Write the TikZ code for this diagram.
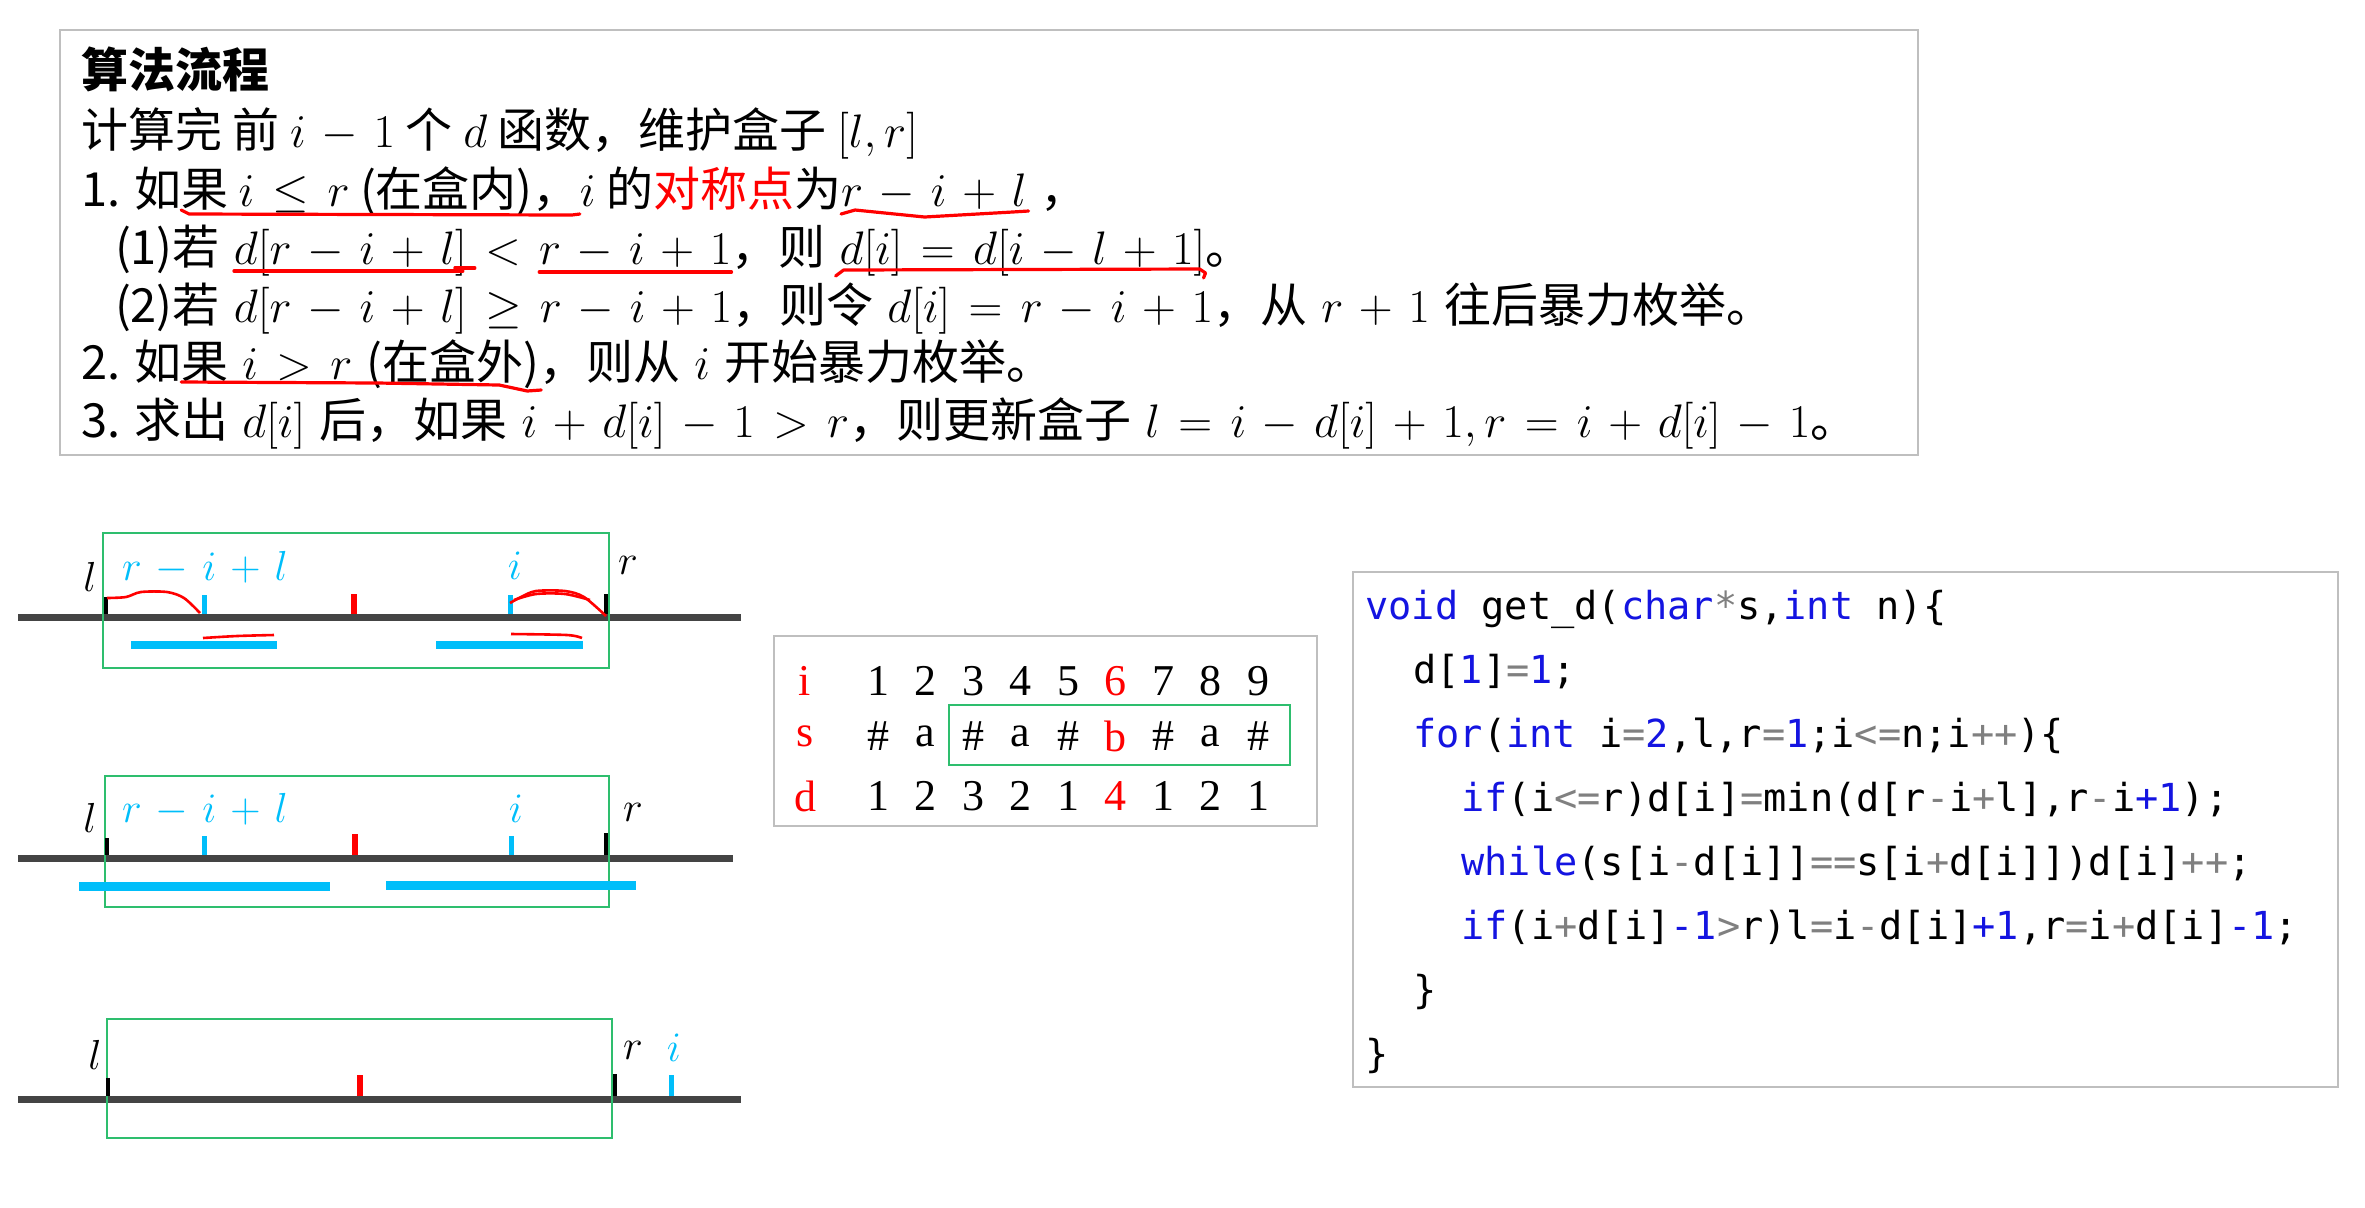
\RequirePackage{fix-cm}
\documentclass[tikz,border=0pt]{standalone}
\usepackage[no-math]{fontspec}
\setmainfont{Noto Sans CJK SC}
\newfontfamily\tabfont{Liberation Serif}
\newfontfamily\codefont{DejaVu Sans Mono}
\usepackage{xcolor}
\usepackage{amsmath}
\usepackage{amssymb}
\usetikzlibrary{positioning, calc}
\definecolor{boxgreen}{RGB}{46,190,110}
\definecolor{skyb}{RGB}{0,190,250}
\definecolor{codeblue}{RGB}{20,20,225}
\definecolor{codegray}{RGB}{128,128,128}
\definecolor{axisgray}{RGB}{68,68,68}
\medmuskip=6mu plus 2mu minus 2mu
\thickmuskip=7mu plus 3mu
\newcommand{\algsize}{\fontsize{23.5}{28}\selectfont}
\newcommand{\lblsize}{\fontsize{21}{25}\selectfont}
\newcommand{\gap}{\hspace{0.3em}\null}
\newcommand{\codekw}[1]{\textcolor{codeblue}{#1}}
\newcommand{\codenum}[1]{\textcolor{codeblue}{#1}}
\newcommand{\codeop}[1]{\textcolor{codegray}{#1}}
\tikzset{panel/.style={draw=black!25, line width=1.2pt}}
\tikzset{txt/.style={inner sep=0pt, outer sep=0pt, anchor=base west, font=\algsize}}
\tikzset{pen/.style={draw=red, line width=1.6pt, line cap=round, line join=round}}
\tikzset{axis/.style={draw=axisgray, line width=3.5pt}}
\tikzset{boxg/.style={draw=boxgreen, line width=1pt}}
\tikzset{blacktick/.style={draw=black, line width=2pt}}
\tikzset{bluetick/.style={draw=skyb, line width=2.5pt}}
\tikzset{redtick/.style={draw=red, line width=3pt}}
\tikzset{bluebar/.style={draw=skyb, line width=4pt}}
\tikzset{lbl/.style={inner sep=0pt, font=\lblsize}}
\tikzset{cell/.style={inner sep=0pt, font=\tabfont\fontsize{22}{26}\selectfont}}
\tikzset{code/.style={inner sep=0pt, anchor=base west, font=\codefont\fontsize{19.3}{24}\selectfont}}

\begin{document}
\begin{tikzpicture}[x=0.5pt, y=-0.5pt]
    \useasboundingbox (0,0) rectangle (2365,1207);

    % algorithm text
    \draw[panel] (60,30) rectangle (1918,455);
    \node[txt, font=\algsize\bfseries] (title) at (81,87) {算法流程};
    \node[txt] (init) at (81,147) {计算完 前 $i-1$ 个 $d$ 函数，维护盒子 $[l,r]$};

    \node[txt] (s1a) at (81,206) {1. 如};
    \node[txt, base right=0pt of s1a] (s1b) {果 $i\le r$ (在盒内)，};
    \node[txt, base right=0pt of s1b] (s1c) {$i$ 的\textcolor{red}{对称点}为};
    \node[txt, base right=0pt of s1c] (s1d) {$r-i+l$};
    \node[txt, base right=0pt of s1d] (s1e) {\gap{}，};

    \node[txt] (s2a) at (115,264) {(1)若\gap{}};
    \node[txt, base right=0pt of s2a] (s2b) {$d[r-i+l]$};
    \node[txt, base right=0pt of s2b] (s2c) {$\;<\;$};
    \node[txt, base right=0pt of s2c] (s2d) {$r-i+1$};
    \node[txt, base right=0pt of s2d] (s2e) {，则\gap{}};
    \node[txt, base right=0pt of s2e] (s2f) {$d[i]=d[i-l+1]$};
    \node[txt, base right=0pt of s2f] (s2g) {。};

    \node[txt] (s3) at (115,322) {(2)若\gap{}$d[r-i+l]\ge r-i+1$，则令\gap{}$d[i]=r-i+1$，从\gap{}$r+1$\gap{}往后暴力枚举。};

    \node[txt] (s4a) at (81,379) {2. 如};
    \node[txt, base right=0pt of s4a] (s4b) {果\gap{}$i>r$\gap{}(在盒外)};
    \node[txt, base right=0pt of s4b] (s4c) {，则从\gap{}$i$\gap{}开始暴力枚举。};

    \node[txt] (s5) at (81,437) {3. 求出\gap{}$d[i]$\gap{}后，如果\gap{}$i+d[i]-1>r$，则更新盒子\gap{}$l=i-d[i]+1,r=i+d[i]-1$。};

    % red pen marks
    \draw[pen] ($(s1b.base west)+(0,4)$) -- ($(s1b.base west)+(8,8)$) -- ($(s1b.base east)+(-8,9)$) -- ($(s1b.base east)+(0,8)$);
    \draw[pen] ($(s1d.base west)+(0,8)$) -- ($(s1d.base west)+(14,4)$) -- ($(s1d.base west)!0.45!(s1d.base east)+(0,11)$) -- ($(s1d.base east)+(-14,6)$) -- ($(s1d.base east)+(2,5)$);
    \draw[pen] ($(s2b.base west)+(0,7)$) -- ($(s2b.base east)+(-4,7)$);
    \draw[pen] ($(s2b.base east)+(-12,4)$) -- ($(s2b.base east)+(8,4)$);
    \draw[pen] ($(s2d.base west)+(0,8)$) -- ($(s2d.base east)+(0,8)$);
    \draw[pen] ($(s2f.base west)+(-4,12)$) -- ($(s2f.base west)+(4,6)$) -- ($(s2f.base east)+(-6,5)$) -- ($(s2f.base east)+(0,9)$) -- ($(s2f.base east)+(-2,14)$);
    \draw[pen] ($(s4b.base west)+(0,3)$) -- ($(s4b.base east)!0.45!(s4b.base west)+(0,4)$) -- ($(s4b.base east)+(-40,6)$) -- ($(s4b.base east)+(-12,12)$) -- ($(s4b.base east)+(2,11)$);

    % box, first case
    \draw[axis] (18,617) -- (741,617);
    \draw[boxg] (103,533) rectangle (609,668);
    \draw[blacktick] (106,597) -- (106,614);
    \draw[bluetick] (204,595) -- (204,614);
    \draw[redtick] (354,594) -- (354,614);
    \draw[bluetick] (510,595) -- (510,614);
    \draw[blacktick] (606,594) -- (606,614);
    \node[lbl] (al) at (90,577) {$l$};
    \node[lbl] (ar) at (628,565) {$r$};
    \node[lbl, text=skyb] (am) at (205,568) {$r-i+l$};
    \node[lbl, text=skyb] (ai) at (515,566) {$i$};
    \draw[bluebar] (131,645) -- (277,645);
    \draw[bluebar] (436,645) -- (583,645);
    \draw[draw=red, line width=1.3pt] plot[smooth] coordinates {(107,598) (126,597) (141,592) (167,592) (184,598) (200,613)};
    \draw[draw=red, line width=1.3pt] plot[smooth] coordinates {(510,603) (521,597) (536,591) (565,591) (584,597) (606,616)};
    \draw[draw=red, line width=1.3pt] plot[smooth] coordinates {(514,600) (536,594) (565,594) (590,600)};
    \draw[draw=red, line width=1.3pt] plot[smooth] coordinates {(203,638) (237,636) (274,635)};
    \draw[draw=red, line width=1.3pt] plot[smooth] coordinates {(511,634) (567,635) (582,638)};

    % box, second case
    \draw[axis] (18,858) -- (733,858);
    \draw[boxg] (105,776) rectangle (609,907);
    \draw[blacktick] (107,838) -- (107,855);
    \draw[bluetick] (204,836) -- (204,855);
    \draw[redtick] (355,834) -- (355,855);
    \draw[bluetick] (511,836) -- (511,855);
    \draw[blacktick] (606,833) -- (606,855);
    \node[lbl] (bl) at (90,818) {$l$};
    \node[lbl] (br) at (633,812) {$r$};
    \node[lbl, text=skyb] (bm) at (205,810) {$r-i+l$};
    \node[lbl, text=skyb] (bi) at (516,809) {$i$};
    \draw[draw=skyb, line width=4.5pt] (79,886) -- (330,886);
    \draw[draw=skyb, line width=4.5pt] (386,885) -- (636,885);

    % box, third case
    \draw[axis] (18,1099) -- (741,1099);
    \draw[boxg] (107,1019) rectangle (612,1138);
    \draw[blacktick] (108,1078) -- (108,1096);
    \draw[redtick] (360,1075) -- (360,1096);
    \draw[blacktick] (615,1074) -- (615,1096);
    \draw[bluetick] (671,1075) -- (671,1096);
    \node[lbl] (cl) at (95,1055) {$l$};
    \node[lbl] (cr) at (633,1050) {$r$};
    \node[lbl, text=skyb] (ci) at (674,1048) {$i$};

    % table
    \draw[panel] (774,636) rectangle (1317,826);
    \node[cell, text=red] (ti) at (805,681) {i};
    \node[cell, text=red] (ts) at (805,736) {s};
    \node[cell, text=red] (td) at (805,796) {d};
    \foreach \v/\c [count=\k] in {1/black,2/black,3/black,4/black,5/black,6/red,7/black,8/black,9/black}
        \node[cell, text=\c] (i\k) at ({878+47.5*(\k-1)},681) {\v};
    \foreach \v/\c [count=\k] in {\#/black,a/black,\#/black,a/black,\#/black,b/red,\#/black,a/black,\#/black}
        \node[cell, text=\c] (s\k) at ({878+47.5*(\k-1)},736) {\v};
    \foreach \v/\c [count=\k] in {1/black,2/black,3/black,2/black,1/black,4/red,1/black,2/black,1/black}
        \node[cell, text=\c] (d\k) at ({878+47.5*(\k-1)},796) {\v};
    \draw[boxg] (949,705) rectangle (1290,765);

    % code
    \draw[panel] (1353,572) rectangle (2338,1087);
    \node[code] (c1) at (1365,619) {\codekw{void} get\_d(\codekw{char}\codeop{*}s,\codekw{int} n)\{};
    \node[code] (c2) at (1413,683) {d[\codenum{1}]\codeop{=}\codenum{1};};
    \node[code] (c3) at (1413,747) {\codekw{for}(\codekw{int} i\codeop{=}\codenum{2},l,r\codeop{=}\codenum{1};i\codeop{<=}n;i\codeop{++})\{};
    \node[code] (c4) at (1461,811) {\codekw{if}(i\codeop{<=}r)d[i]\codeop{=}min(d[r\codeop{-}i\codeop{+}l],r\codeop{-}i\codenum{+1});};
    \node[code] (c5) at (1461,875) {\codekw{while}(s[i\codeop{-}d[i]]\codeop{==}s[i\codeop{+}d[i]])d[i]\codeop{++};};
    \node[code] (c6) at (1461,939) {\codekw{if}(i\codeop{+}d[i]\codenum{-1}\codeop{>}r)l\codeop{=}i\codeop{-}d[i]\codenum{+1},r\codeop{=}i\codeop{+}d[i]\codenum{-1};};
    \node[code] (c7) at (1413,1003) {\}};
    \node[code] (c8) at (1365,1067) {\}};
\end{tikzpicture}
\end{document}
